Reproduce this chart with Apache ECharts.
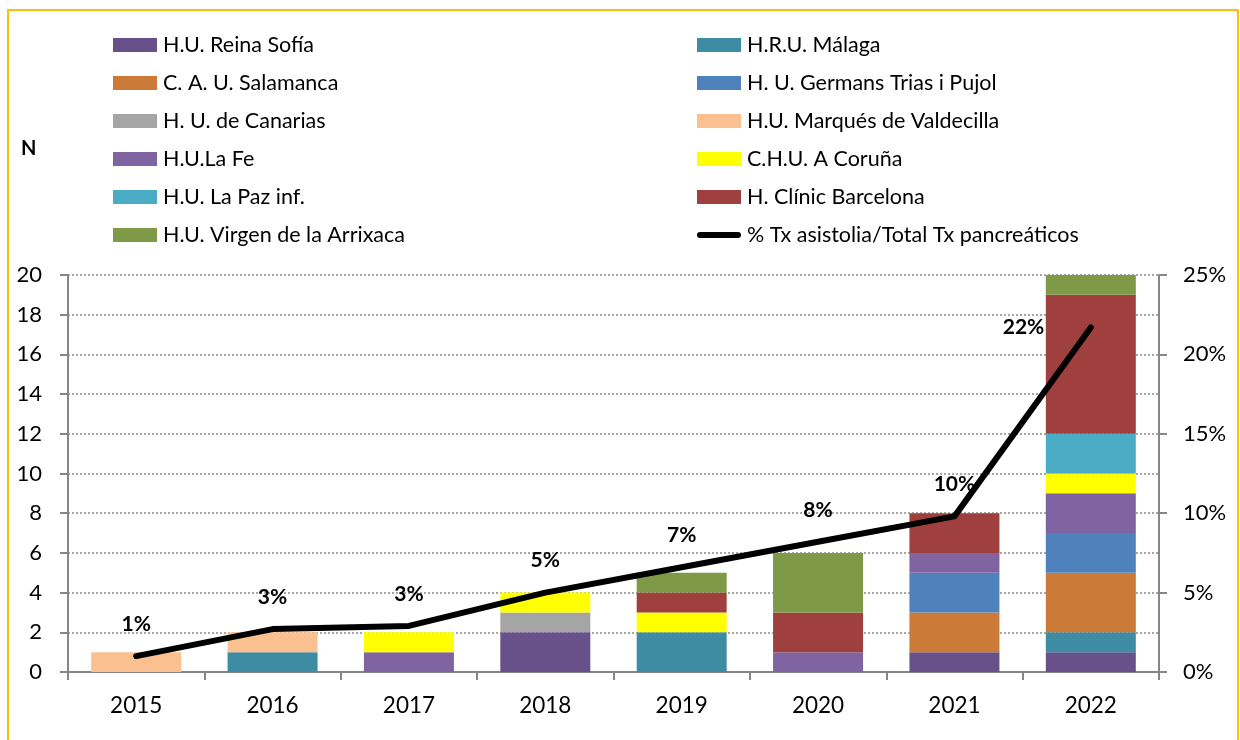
<!DOCTYPE html>
<html>
<head>
<meta charset="utf-8">
<script src="https://cdn.jsdelivr.net/npm/echarts@6/dist/echarts.min.js"></script>
<style>
  html, body { margin: 0; padding: 0; background: #fff; }
  #chart { width: 1240px; height: 740px; }
</style>
</head>
<body>
<div id="chart"></div>
<script>
const years = ['2015', '2016', '2017', '2018', '2019', '2020', '2021', '2022']

// trasplantes por centro (N), de abajo a arriba en la pila
const reinaSofia   = [0, 0, 0, 2, 0, 0, 1, 1]
const malaga       = [0, 1, 0, 0, 2, 0, 0, 1]
const salamanca    = [0, 0, 0, 0, 0, 0, 2, 3]
const germansTrias = [0, 0, 0, 0, 0, 0, 2, 2]
const canarias     = [0, 0, 0, 1, 0, 0, 0, 0]
const valdecilla   = [1, 1, 0, 0, 0, 0, 0, 0]
const laFe         = [0, 0, 1, 0, 0, 1, 1, 2]
const coruna       = [0, 0, 1, 1, 1, 0, 0, 1]
const laPaz        = [0, 0, 0, 0, 0, 0, 0, 2]
const clinic       = [0, 0, 0, 0, 1, 2, 2, 7]
const arrixaca     = [0, 0, 0, 0, 1, 3, 0, 1]

// % Tx asistolia / total Tx pancreáticos
const pctAsistolia = [1.0, 2.7, 2.9, 5.0, 6.6, 8.2, 9.8, 21.7]

const leftTicks = [0, 2, 4, 6, 8, 10, 12, 14, 16, 18, 20]
const rightTicks = [0, 5, 10, 15, 20, 25]

const lineName = '% Tx asistolia/Total Tx pancreáticos'

const centers = [
    { name: 'H.U. Reina Sofía', data: reinaSofia, color: '#68508A' },
    { name: 'H.R.U. Málaga', data: malaga, color: '#3D8CA3' },
    { name: 'C. A. U. Salamanca', data: salamanca, color: '#CC7A37' },
    { name: 'H. U. Germans Trias i Pujol', data: germansTrias, color: '#4F81BD' },
    { name: 'H. U. de Canarias', data: canarias, color: '#A5A5A5' },
    { name: 'H.U. Marqués de Valdecilla', data: valdecilla, color: '#FAC090' },
    { name: 'H.U.La Fe', data: laFe, color: '#8064A2' },
    { name: 'C.H.U. A Coruña', data: coruna, color: '#FFFF00' },
    { name: 'H.U. La Paz inf.', data: laPaz, color: '#4BACC6' },
    { name: 'H. Clínic Barcelona', data: clinic, color: '#9F403E' },
    { name: 'H.U. Virgen de la Arrixaca', data: arrixaca, color: '#7E9A47' }
]

const FONT = 'Lato'
const lineIcon = 'path://M3,0 L41,0 A3,3 0 0 1 41,6 L3,6 A3,3 0 0 1 3,0 Z'

const legendNames = centers.map(c => c.name).concat([lineName])
const leftLegend = legendNames.filter((n, i) => i % 2 === 0)
const rightLegend = legendNames.filter((n, i) => i % 2 === 1)
    .map(n => n === lineName ? { name: n, icon: lineIcon } : n)

const legendBase = {
    orient: 'vertical',
    top: 34,
    padding: 0,
    itemWidth: 44,
    itemHeight: 14,
    itemGap: 16,
    icon: 'rect',
    selectedMode: false,
    textStyle: { fontFamily: FONT, fontSize: 21.5, color: '#000', lineHeight: 22, padding: [0, 0, 0, 1] }
}

const chart = echarts.init(document.getElementById('chart'))

const barSeries = centers.map(c => ({
    name: c.name,
    type: 'bar',
    stack: 'n',
    data: c.data,
    barWidth: 90,
    itemStyle: { color: c.color },
    emphasis: { disabled: true }
}))

chart.setOption({
    backgroundColor: '#fff',
    animation: false,
    graphic: [
        {
            type: 'rect',
            shape: { x: 8, y: 10, width: 1230, height: 740 },
            style: { fill: 'none', stroke: '#FFC000', lineWidth: 2 }
        },
        {
            type: 'text',
            left: 21,
            top: 139,
            style: { text: 'N', fontFamily: FONT, fontSize: 20, fontWeight: 'bold', fill: '#000' }
        }
    ],
    legend: [
        Object.assign({}, legendBase, { left: 113, data: leftLegend }),
        Object.assign({}, legendBase, { left: 697, data: rightLegend })
    ],
    grid: { left: 68, right: 81, top: 275, bottom: 68 },
    xAxis: {
        type: 'category',
        data: years,
        axisLine: { lineStyle: { color: '#868686', width: 2 } },
        axisTick: { show: true, length: 8, lineStyle: { color: '#868686', width: 2 } },
        axisLabel: { fontFamily: FONT, fontSize: 22.5, color: '#000', margin: 22 }
    },
    yAxis: [
        {
            type: 'value',
            min: leftTicks[0],
            max: leftTicks[leftTicks.length - 1],
            interval: 2,
            axisLine: { show: true, lineStyle: { color: '#868686', width: 2 } },
            axisTick: { show: true, length: 8, lineStyle: { color: '#868686', width: 2 } },
            axisLabel: { fontFamily: FONT, fontSize: 22, color: '#000', margin: 26 },
            splitLine: { lineStyle: { color: '#8a8a8a', type: [2, 2], width: 1.5 } }
        },
        {
            type: 'value',
            min: rightTicks[0],
            max: rightTicks[rightTicks.length - 1],
            interval: 5,
            position: 'right',
            axisLine: { show: true, lineStyle: { color: '#868686', width: 2 } },
            axisTick: { show: true, length: 8, lineStyle: { color: '#868686', width: 2 } },
            axisLabel: { fontFamily: FONT, fontSize: 22, color: '#000', margin: 24, formatter: '{value}%' },
            splitLine: { show: false }
        }
    ],
    series: barSeries.concat([
        {
            name: lineName,
            type: 'line',
            yAxisIndex: 1,
            data: pctAsistolia.map((v, i) => i === pctAsistolia.length - 1
                ? { value: v, label: { position: 'left', distance: 46 } }
                : v),
            symbol: 'circle',
            symbolSize: 1,
            showSymbol: true,
            z: 10,
            itemStyle: { color: '#000' },
            lineStyle: { color: '#000', width: 6, join: 'round', cap: 'round' },
            label: {
                show: true,
                position: 'top',
                distance: 21,
                fontFamily: FONT,
                fontSize: 21,
                fontWeight: 'bold',
                color: '#000',
                formatter: p => Math.round(p.value) + '%'
            },
            emphasis: { disabled: true }
        }
    ])
})

window.addEventListener('resize', () => {
    chart.resize()
})
</script>
</body>
</html>
